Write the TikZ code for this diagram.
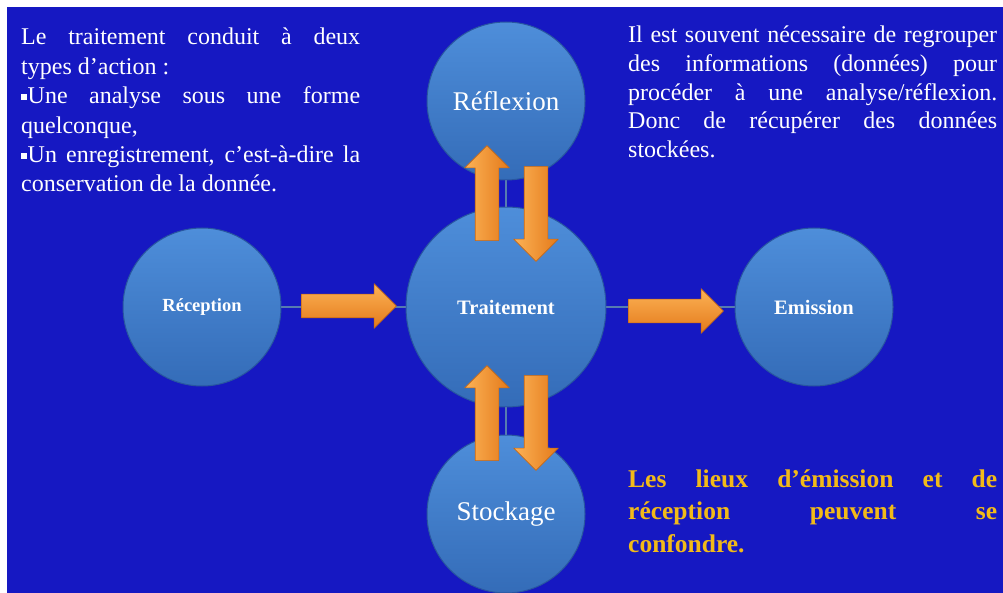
\documentclass[tikz,border=0pt]{standalone}
\usepackage{fontspec}
\setmainfont{Liberation Serif}
\usetikzlibrary{shapes.arrows}

\definecolor{fond}{RGB}{22,24,194}
\definecolor{hautrond}{RGB}{78,142,218}
\definecolor{basrond}{RGB}{52,108,184}
\definecolor{bordrond}{RGB}{40,86,160}
\definecolor{lienbleu}{RGB}{86,124,176}
\definecolor{flechclair}{RGB}{252,178,86}
\definecolor{flechfonce}{RGB}{228,122,26}
\definecolor{flechbord}{RGB}{200,104,20}
\definecolor{jaune}{RGB}{242,186,24}

\newcommand{\puce}{\raisebox{4pt}{\rule{5.5pt}{5.5pt}}\hspace{1pt}}
\tolerance=10000
\hbadness=10000

\begin{document}
\begin{tikzpicture}[line cap=round,line join=round,x=1pt,y=-1pt,
    rond/.style={circle, draw=bordrond, line width=1pt, top color=hautrond, bottom color=basrond, inner sep=0pt, minimum size=158pt, text=white},
    flech/.style={single arrow, single arrow head extend=10.5pt, inner sep=11.5pt, minimum height=95pt, top color=flechclair, bottom color=flechfonce, draw=flechbord, line width=0.6pt},
    vflech/.style={flech, left color=flechclair, right color=flechfonce},
    lien/.style={draw=lienbleu, line width=1.3pt},
    para/.style={anchor=base west, inner sep=0pt, align=justify, text width=369pt, text=white, font=\fontsize{24}{28.6}\selectfont}]
    \useasboundingbox (0,0) rectangle (1003,593);
    \fill[white] (0,0) rectangle (1003,593);
    \fill[fond] (7,7) rectangle (1003,593);

    % les cinq cercles
    \node[rond] (refl) at (506,101) {\fontsize{27}{30}\selectfont Réflexion};
    \node[rond, minimum size=200pt] (trait) at (506,307) {\bfseries\fontsize{20.5}{24}\selectfont Traitement};
    \node[rond] (stock) at (506,514) {\fontsize{27}{30}\selectfont Stockage};
    \node[rond] (recep) at (202,307) {\bfseries\fontsize{18.5}{22}\selectfont Réception};
    \node[rond] (emis) at (814,307) {\bfseries\fontsize{20.5}{24}\selectfont Emission};

    \draw[lien] (recep) -- (trait);
    \draw[lien] (trait) -- (emis);
    \draw[lien] (refl) -- (trait);
    \draw[lien] (trait) -- (stock);

    % fleches
    \node[flech] (versTrait) at (343,306) {};
    \node[flech] (versEmis) at (670,311) {};
    \node[vflech, rotate=90] (montHaut) at (487,199) {};
    \node[vflech, rotate=-90] (descHaut) at (536,208) {};
    \node[vflech, rotate=90] (montBas) at (487,419) {};
    \node[vflech, rotate=-90] (descBas) at (536,417) {};

    % textes
    \node[para, text width=339pt, font=\fontsize{24}{29.4}\selectfont] (gauche) at (21,45) {Le traitement conduit à deux\linebreak types d’action :\par \puce Une analyse sous une forme\linebreak quelconque,\par \puce Un enregistrement, c’est-à-dire la\linebreak conservation de la donnée.};
    \node[para] (droite) at (628,43) {Il est souvent nécessaire de regrouper\linebreak des informations (données) pour\linebreak procéder à une analyse/réflexion.\linebreak Donc de récupérer des données\linebreak stockées.};
    \node[para, text=jaune, font=\bfseries\fontsize{25.5}{32.5}\selectfont] (lieux) at (628,487) {Les lieux d’émission et de\linebreak réception peuvent se\linebreak confondre.};
\end{tikzpicture}
\end{document}
